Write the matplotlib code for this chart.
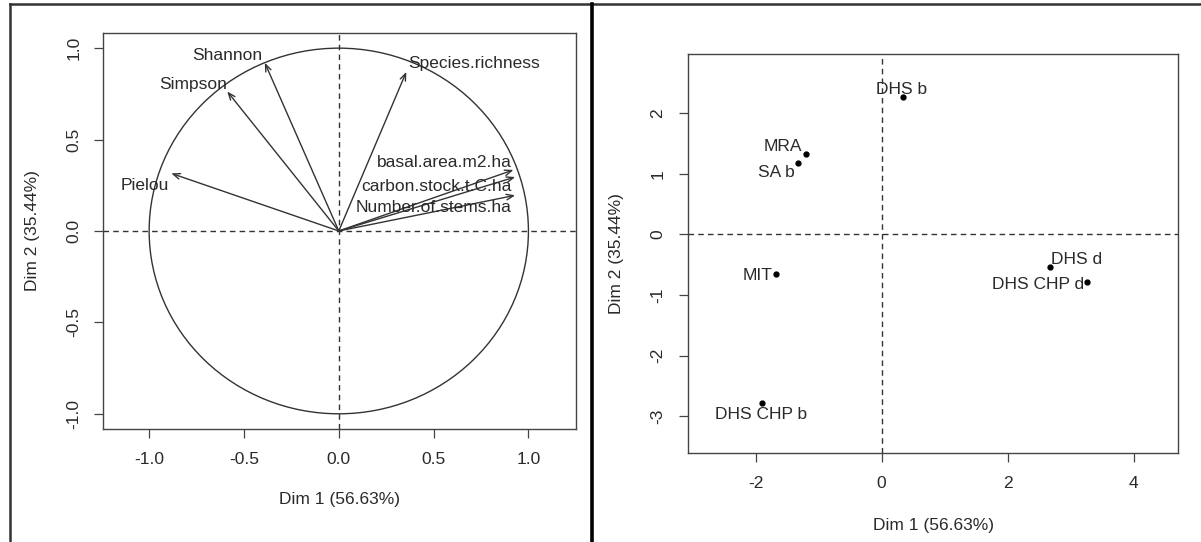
"""Biplot de PCA: círculo das variáveis (esquerda) e mapa dos indivíduos (direita)."""

import matplotlib
matplotlib.use('Agg')
import matplotlib.pyplot as plt
from matplotlib.patches import Circle
from matplotlib.lines import Line2D

plt.rcParams['font.family'] = ['Liberation Sans', 'DejaVu Sans']
plt.rcParams['axes.unicode_minus'] = False
fs = 12.5

# Variáveis (coordenadas no círculo de correlação)
variaveis = ['Shannon', 'Simpson', 'Pielou', 'Species.richness',
             'basal.area.m2.ha', 'carbon.stock.t.C.ha', 'Number.of.stems.ha']
var_dim1 = [-0.39, -0.588, -0.883, 0.356, 0.921, 0.93, 0.93]
var_dim2 = [0.92, 0.763, 0.315, 0.870, 0.334, 0.295, 0.195]

# Indivíduos
individuos = ['DHS b', 'MRA', 'SA b', 'MIT', 'DHS CHP b', 'DHS d', 'DHS CHP d']
ind_dim1 = [0.334, -1.20, -1.325, -1.67, -1.90, 2.675, 3.25]
ind_dim2 = [2.27, 1.33, 1.185, -0.655, -2.78, -0.54, -0.78]

rotulo_x = 'Dim 1 (56.63%)'
rotulo_y = 'Dim 2 (35.44%)'

# posição dos rótulos (deslocamento em pontos, alinhamento)
var_off = [(-2, 5.4, 'right'), (0, 5, 'right'), (-2, -8.5, 'right'),
           (1.5, 5.8, 'left'), (-1.5, 5.4, 'right'), (-2.6, -7, 'right'),
           (-2.6, -8.7, 'right')]
ind_off = [(-1, 5.4, 'center'), (-2.6, 4.9, 'right'), (-2.5, -7.5, 'right'),
           (-2.8, -1, 'right'), (-0.7, -8.5, 'center'), (0.8, 5.7, 'left'),
           (-2, -1.7, 'right')]

cor = '#2a2a2a'

fig = plt.figure(figsize=(12.01, 5.42), dpi=100)


def estilo(ax, xpad, ypad):
    for s in ax.spines.values():
        s.set_color('#444444')
        s.set_linewidth(1.0)
    ax.tick_params(direction='out', length=6.5, width=0.9, colors='#444444',
                   labelcolor=cor, labelsize=fs)
    ax.tick_params(axis='x', pad=xpad)
    ax.tick_params(axis='y', pad=ypad)
    for lb in ax.get_yticklabels():
        lb.set_rotation(90)
        lb.set_va('center')
    ax.axhline(0, color='#333333', lw=1.0, ls=(0, (4, 3)))
    ax.axvline(0, color='#333333', lw=1.0, ls=(0, (4, 3)))


# Painel 1: círculo das variáveis
ax1 = fig.add_axes([0.0855, 0.2092, 0.3938, 0.7303])
ax1.set_xlim(-1.245, 1.249)
ax1.set_ylim(-1.081, 1.084)
ax1.set_xticks([-1.0, -0.5, 0.0, 0.5, 1.0])
ax1.set_yticks([-1.0, -0.5, 0.0, 0.5, 1.0])
ax1.set_xticklabels(['-1.0', '-0.5', '0.0', '0.5', '1.0'])
ax1.set_yticklabels(['-1.0', '-0.5', '0.0', '0.5', '1.0'])
estilo(ax1, 10, 9)
ax1.add_patch(Circle((0, 0), 1, fill=False, color='#333333', lw=1.0))
for nome, x, y, (dx, dy, ha) in zip(variaveis, var_dim1, var_dim2, var_off):
    ax1.annotate('', xy=(x, y), xytext=(0, 0),
                 arrowprops=dict(arrowstyle='->,head_length=0.5,head_width=0.2',
                                 color='#333333', lw=1.0, shrinkA=0, shrinkB=0))
    ax1.annotate(nome, xy=(x, y), xytext=(dx, dy), textcoords='offset points',
                 ha=ha, va='center', color=cor, fontsize=fs)
ax1.set_xlabel(rotulo_x, color=cor, fontsize=fs, labelpad=18)
ax1.set_ylabel(rotulo_y, color=cor, fontsize=fs, labelpad=19)

# Painel 2: indivíduos
ax2 = fig.add_axes([0.5729, 0.1646, 0.408, 0.7352])
ax2.set_xlim(-3.07, 4.70)
ax2.set_ylim(-3.60, 2.97)
ax2.set_xticks([-2, 0, 2, 4])
ax2.set_yticks([-3, -2, -1, 0, 1, 2])
estilo(ax2, 10, 10)
ax2.plot(ind_dim1, ind_dim2, 'o', color='black', markersize=3.5, ls='none')
for nome, x, y, (dx, dy, ha) in zip(individuos, ind_dim1, ind_dim2, ind_off):
    ax2.annotate(nome, xy=(x, y), xytext=(dx, dy), textcoords='offset points',
                 ha=ha, va='center', color=cor, fontsize=fs)
ax2.set_xlabel(rotulo_x, color=cor, fontsize=fs, labelpad=20)
ax2.set_ylabel(rotulo_y, color=cor, fontsize=fs, labelpad=19)

# molduras da figura
fig.add_artist(Line2D([10 / 1201, 1], [1 - 4 / 542, 1 - 4 / 542],
                      transform=fig.transFigure, color='#333333', lw=1.8))
fig.add_artist(Line2D([10 / 1201, 10 / 1201], [0, 1 - 4 / 542],
                      transform=fig.transFigure, color='#333333', lw=1.8))
fig.add_artist(Line2D([592 / 1201, 592 / 1201], [0, 1 - 4 / 542],
                      transform=fig.transFigure, color='black', lw=2.6))

fig.savefig('out.png', dpi=100)
